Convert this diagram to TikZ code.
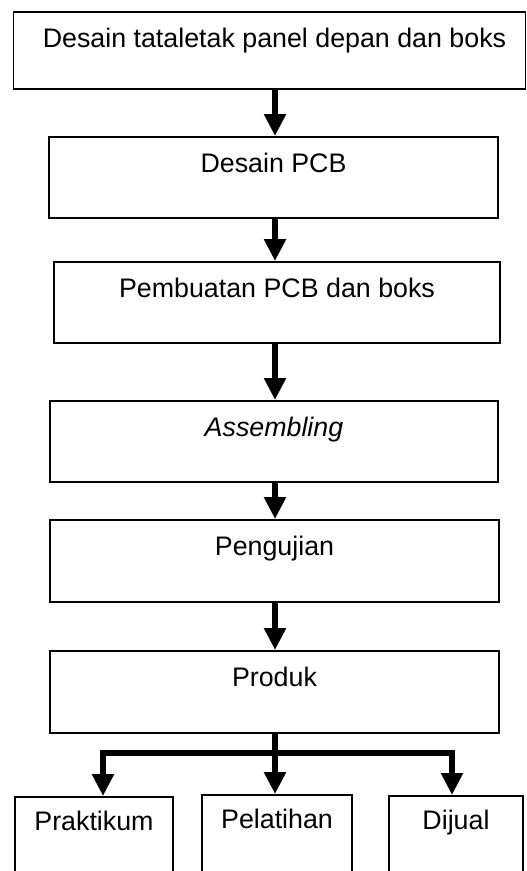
\documentclass[tikz,border=0pt]{standalone}
\usepackage{fontspec}
\setmainfont{Liberation Sans}
\usetikzlibrary{arrows.meta}
\begin{document}
\begin{tikzpicture}[x=1pt,y=-1pt,
  box/.style={draw, line width=1.6pt, inner sep=0pt, anchor=north,
    text height=36pt, font=\fontsize{26.8}{30}\selectfont},
  sbox/.style={box, text height=34pt},
  arr/.style={line width=6pt, -{Triangle[width=21pt,length=22pt]}},
  stem/.style={line width=6pt},
  line join=miter]
\useasboundingbox (0,0) rectangle (527,871);
\clip (0,0) rectangle (527,871);
\fill[white] (0,0) rectangle (527,871);
\node[box, minimum width=512pt, text depth=41pt] (b1) at (269.5,11) {\kern10pt Desain tataletak panel depan dan boks};
\node[box, minimum width=449pt, text depth=45pt] (b2) at (273.5,136) {Desain PCB};
\node[box, minimum width=446pt, text depth=45pt] (b3) at (277,261) {Pembuatan PCB dan boks};
\node[box, minimum width=448pt, text depth=45pt] (b4) at (274,400) {\itshape Assembling};
\node[box, minimum width=449pt, text depth=46pt] (b5) at (274.5,519) {Pengujian};
\node[box, minimum width=449pt, text depth=46pt] (b6) at (274.5,650) {Produk};
\node[sbox, minimum width=158pt, text depth=60pt] (p1) at (94,796) {Praktikum};
\node[sbox, minimum width=150pt, text depth=60pt] (p2) at (277,794) {Pelatihan};
\node[sbox, minimum width=134pt, text depth=60pt] (p3) at (456,795) {Dijual};
\coordinate (ax) at (275,0);
\draw[arr] (ax |- b1.south) -- (ax |- b2.north);
\draw[arr] (ax |- b2.south) -- (ax |- b3.north);
\draw[arr] (ax |- b3.south) -- (ax |- b4.north);
\draw[arr] (ax |- b4.south) -- (ax |- b5.north);
\draw[arr] (ax |- b5.south) -- (ax |- b6.north);
\coordinate (j) at (275,753);
\coordinate (t1) at ([xshift=9pt]p1.north);
\coordinate (t3) at ([xshift=-4pt]p3.north);
\draw[stem] (ax |- b6.south) -- (j);
\draw[arr] (j) -| (t1);
\draw[arr] (j) -| (t3);
\draw[arr] (j) -- (j |- p2.north);
\end{tikzpicture}
\end{document}
